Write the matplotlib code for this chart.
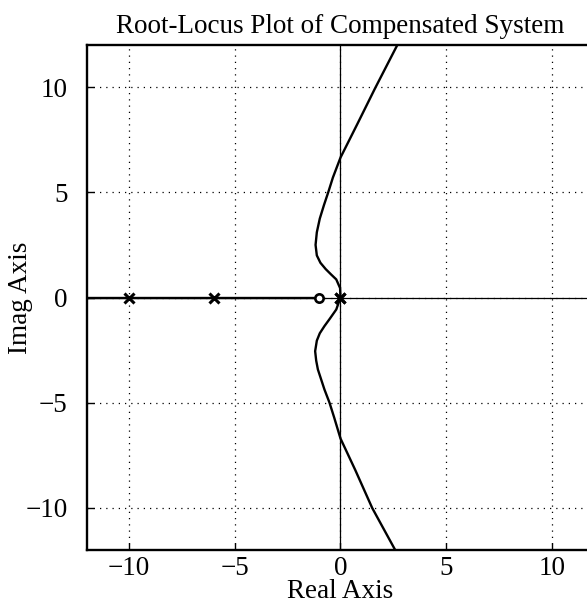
"""Root-locus plot of the compensated system."""

import matplotlib

matplotlib.use("Agg")
import matplotlib.pyplot as plt


# values
POLES = [0.0, 0.0, -6.0, -10.0]
ZEROS = [-1.0]

UPPER_RE = [0.0, -0.02, -0.2, -0.45, -0.7, -0.95, -1.12, -1.18, -1.12, -0.98,
            -0.78, -0.58, -0.36, 0.0, 0.8, 1.63, 2.69]
UPPER_IM = [0.0, 0.45, 0.86, 1.1, 1.35, 1.65, 2.0, 2.5, 3.1, 3.75,
            4.4, 5.0, 5.7, 6.65, 8.25, 9.93, 12.0]

LOWER_RE = [0.0, -0.2, -0.5, -0.76, -0.98, -1.12, -1.2, -1.15, -1.07, -0.76,
            -0.52, -0.3, 0.0, 0.7, 1.5, 2.59]
LOWER_IM = [0.0, -0.57, -1.0, -1.36, -1.7, -2.05, -2.55, -3.0, -3.42, -4.37,
            -5.0, -5.7, -6.7, -8.2, -10.0, -12.0]

REAL_AXIS_BRANCH = [-12.0, -1.0]

TICKS = [-10, -5, 0, 5, 10]
TICK_LABELS = ["\u221210", "\u22125", "0", "5", "10"]

plt.rcParams["font.family"] = ["Liberation Serif", "DejaVu Serif"]

fig = plt.figure(figsize=(5.87, 6.05), dpi=100)
ax = fig.add_axes([0.1482, 0.0909, 0.8637, 0.8347])

ax.axhline(0, color="black", linewidth=0.9, zorder=2)
ax.axvline(0, color="black", linewidth=0.9, zorder=2)

ax.plot(REAL_AXIS_BRANCH, [0, 0], color="black", linewidth=1.7, zorder=3)
ax.plot(UPPER_RE, UPPER_IM, color="black", linewidth=1.7, zorder=3)
ax.plot(LOWER_RE, LOWER_IM, color="black", linewidth=1.7, zorder=3)

ax.plot(POLES, [0] * len(POLES), linestyle="none", marker="x", markersize=6.5,
        markeredgewidth=2.2, color="black", zorder=4)
ax.plot(ZEROS, [0] * len(ZEROS), linestyle="none", marker="o", markersize=6,
        markeredgewidth=1.9, markerfacecolor="white", color="black", zorder=4)

ax.set_xlim(-12, 12)
ax.set_ylim(-12, 12)
ax.set_xticks(TICKS)
ax.set_yticks(TICKS)
ax.set_xticklabels(TICK_LABELS)
ax.set_yticklabels(TICK_LABELS)
ax.tick_params(direction="in", length=5, width=1.0, labelsize=19.5)
ax.tick_params(axis="y", pad=14)
ax.tick_params(axis="x", pad=4)
ax.grid(True, color="black", linestyle=(0, (1, 4)), linewidth=0.9)

for spine in ax.spines.values():
    spine.set_linewidth(1.7)

ax.set_title("Root-Locus Plot of Compensated System", fontsize=19.5, pad=9)
ax.set_xlabel("Real Axis", fontsize=19.5)
ax.set_ylabel("Imag Axis", fontsize=19.5)
ax.xaxis.set_label_coords(0.5, -0.057)
ax.yaxis.set_label_coords(-0.106, 0.5)

fig.savefig("out.png", dpi=100)
